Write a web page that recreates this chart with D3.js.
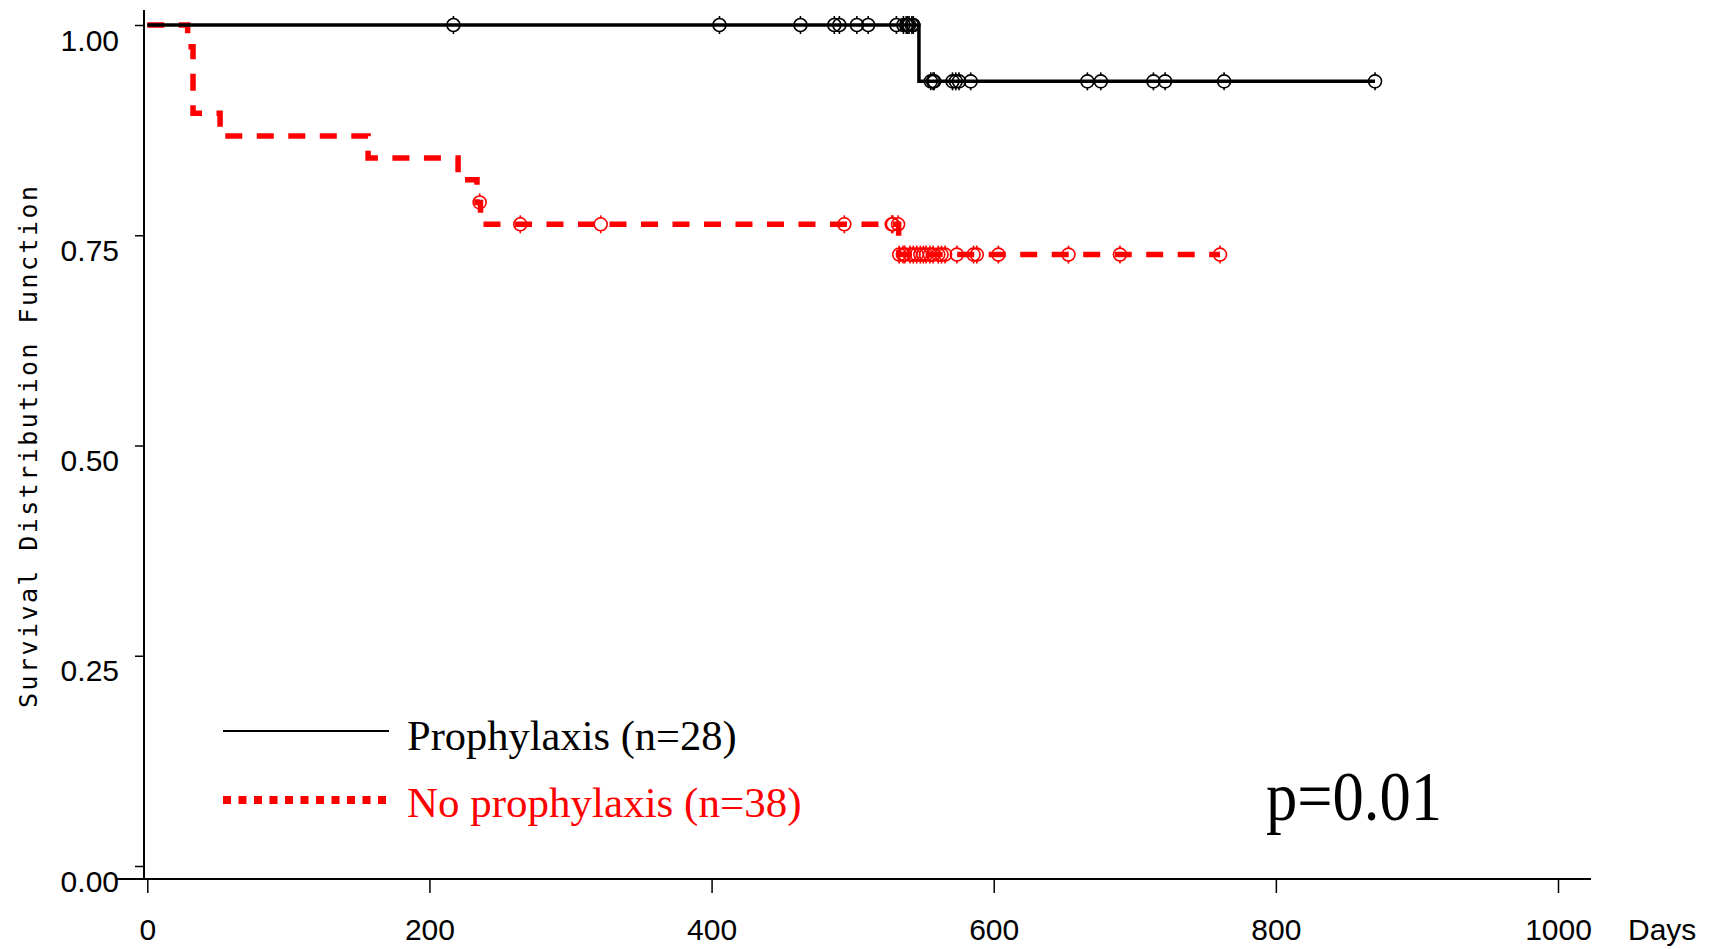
<!DOCTYPE html>
<html>
<head>
<meta charset="utf-8">
<script src="https://cdn.jsdelivr.net/npm/d3@7"></script>
<style>
  body { margin: 0; background: #fff; }
  svg { display: block; }
</style>
</head>
<body>
<div id="chart"></div>
<script>
// x ticks (days) and y ticks (survival)
var xTicks = [0, 200, 400, 600, 800, 1000];
var yTicks = [0, 0.25, 0.5, 0.75, 1];

// Prophylaxis (n=28): step times / survival after step, censored times
var proTimes = [0, 547];
var proSurv = [1, 0.933];
var proEnd = 870.3;
var proCens = [217, 405.6, 463, 487, 490.6, 503, 511, 531, 536, 538, 539, 540, 542, 543,
               555.4, 557, 557.8, 570.8, 573.1, 575.4, 583.7, 666.4, 675.9, 713.2, 721.5, 763.3, 870.3];

// No prophylaxis (n=38)
var noTimes = [0, 28.6, 32.4, 51.6, 156.5, 220.3, 233.7, 236.2, 532.6];
var noSurv = [1, 0.974, 0.895, 0.868, 0.842, 0.816, 0.789, 0.763, 0.727];
var noEnd = 760.4;
var noCens = [235.6, 264.4, 321.4, 494.1, 527.7, 528.5,
              532.2, 533, 535.7, 537, 540.7, 543, 545.4, 548, 550.1, 552, 554.8, 557, 560.7, 563, 565.5,
              573.9, 585.7, 588, 603.3, 653.0, 689.5, 760.4];

var legendLabels = ["Prophylaxis (n=28)", "No prophylaxis (n=38)"];
var pValue = "p=0.01";

var W = 1713, H = 949;

var svg = d3.select("#chart").append("svg")
    .attr("width", W)
    .attr("height", H)
    .attr("viewBox", "0 0 " + W + " " + H);

var x = d3.scaleLinear().domain([0, 1000]).range([147.3, 1558]);
var y = d3.scaleLinear().domain([0, 1]).range([866, 25]);

// survival at time t, from a step table
function survAt(times, surv, t) {
    var i = d3.bisectRight(times, t) - 1;
    return surv[Math.max(i, 0)];
}

// axes
var xAxis = svg.append("g")
    .attr("transform", "translate(0,879)")
    .call(d3.axisBottom(x).tickValues(xTicks).tickFormat(d3.format("d")).tickSize(14).tickSizeOuter(0));
xAxis.select(".domain").remove();
xAxis.selectAll(".tick line").attr("stroke", "#000").attr("stroke-width", 1.5);
xAxis.selectAll("text")
    .attr("y", 61).attr("dy", 0)
    .attr("fill", "#000")
    .style("font-family", "'Liberation Sans', Arial, sans-serif")
    .style("font-size", "30px");

svg.append("line")
    .attr("x1", 116).attr("x2", 1591)
    .attr("y1", 879).attr("y2", 879)
    .attr("stroke", "#000").attr("stroke-width", 2);

var yAxis = svg.append("g")
    .attr("transform", "translate(144,0)")
    .call(d3.axisLeft(y).tickValues(yTicks).tickFormat(d3.format(".2f")).tickSize(9).tickSizeOuter(0));
yAxis.select(".domain").remove();
yAxis.selectAll(".tick line").attr("stroke", "#000").attr("stroke-width", 1.5);
yAxis.selectAll("text")
    .attr("x", -25).attr("y", 25).attr("dy", 0)
    .attr("fill", "#000")
    .style("font-family", "'Liberation Sans', Arial, sans-serif")
    .style("font-size", "30px");

svg.append("line")
    .attr("x1", 144).attr("x2", 144)
    .attr("y1", 10).attr("y2", 880)
    .attr("stroke", "#000").attr("stroke-width", 2);

// axis titles
svg.append("text")
    .attr("transform", "translate(37,447) rotate(-90)")
    .attr("text-anchor", "middle")
    .attr("textLength", 522)
    .attr("lengthAdjust", "spacing")
    .style("font-family", "'DejaVu Sans Mono', monospace")
    .style("font-size", "25px")
    .text("Survival Distribution Function");

svg.append("text")
    .attr("x", 1628).attr("y", 940)
    .style("font-family", "'Liberation Sans', Arial, sans-serif")
    .style("font-size", "30px")
    .text("Days");

// curves
var line = d3.line()
    .x(function (d) { return x(d[0]); })
    .y(function (d) { return y(d[1]); })
    .curve(d3.curveStepAfter);

function pts(times, surv, end) {
    var p = times.map(function (t, i) { return [t, surv[i]]; });
    p.push([end, surv[surv.length - 1]]);
    return p;
}

svg.append("path")
    .attr("d", line(pts(noTimes, noSurv, noEnd)))
    .attr("fill", "none")
    .attr("stroke", "#ff0000")
    .attr("stroke-width", 5.5)
    .attr("stroke-dasharray", "17 14.5");

svg.append("path")
    .attr("d", line(pts(proTimes, proSurv, proEnd)))
    .attr("fill", "none")
    .attr("stroke", "#000")
    .attr("stroke-width", 3.5);

// censor marks
function marks(cens, times, surv, color) {
    var g = svg.append("g");
    cens.forEach(function (t) {
        var cx = x(t), cy = y(survAt(times, surv, t));
        g.append("circle")
            .attr("cx", cx).attr("cy", cy).attr("r", 6.5)
            .attr("fill", "none").attr("stroke", color).attr("stroke-width", 1.6);
        g.append("line")
            .attr("x1", cx).attr("x2", cx)
            .attr("y1", cy - 9).attr("y2", cy - 6)
            .attr("stroke", color).attr("stroke-width", 1.6);
        g.append("line")
            .attr("x1", cx).attr("x2", cx)
            .attr("y1", cy + 6).attr("y2", cy + 9)
            .attr("stroke", color).attr("stroke-width", 1.6);
    });
}
marks(noCens, noTimes, noSurv, "#ff0000");
marks(proCens, proTimes, proSurv, "#000");

// legend
svg.append("line")
    .attr("x1", 223).attr("x2", 389)
    .attr("y1", 731).attr("y2", 731)
    .attr("stroke", "#000").attr("stroke-width", 2);
svg.append("line")
    .attr("x1", 223).attr("x2", 388)
    .attr("y1", 800).attr("y2", 800)
    .attr("stroke", "#ff0000").attr("stroke-width", 8)
    .attr("stroke-dasharray", "8 7.5");

svg.append("text")
    .attr("x", 407).attr("y", 750)
    .style("font-family", "'Liberation Serif', 'Times New Roman', serif")
    .style("font-size", "42.5px")
    .attr("fill", "#000")
    .text(legendLabels[0]);
svg.append("text")
    .attr("x", 407).attr("y", 817)
    .style("font-family", "'Liberation Serif', 'Times New Roman', serif")
    .style("font-size", "43px")
    .attr("fill", "#ff0000")
    .text(legendLabels[1]);

svg.append("text")
    .attr("x", 1266).attr("y", 820)
    .attr("textLength", 176)
    .attr("lengthAdjust", "spacingAndGlyphs")
    .style("font-family", "'Liberation Serif', 'Times New Roman', serif")
    .style("font-size", "70px")
    .text(pValue);
</script>
</body>
</html>
